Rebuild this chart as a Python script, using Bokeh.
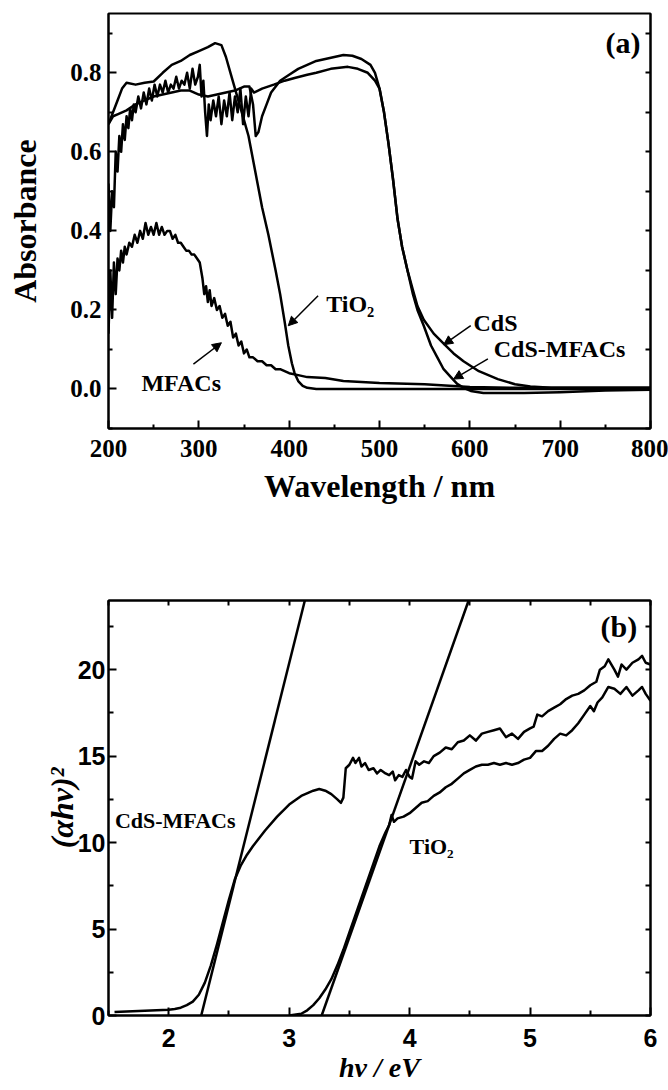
from bokeh.plotting import figure
from bokeh.models import (FixedTicker, LinearAxis, Range1d, Label, Arrow,
                          NormalHead, PrintfTickFormatter, CustomJSTickFormatter)
from bokeh.layouts import column
from bokeh.embed import file_html
from bokeh.resources import INLINE

# ---------------- Panel (a): UV-vis absorbance ----------------
tio2_wl = [200, 205, 210, 215, 220, 230, 240, 250, 260, 270, 280, 290, 300, 310, 318,
           325, 330, 335, 340, 345, 350, 355, 360, 365, 370, 377, 385, 390, 395, 399,
           403, 406, 410, 415, 420, 430, 450, 500, 600, 700, 800]
tio2_abs = [0.67, 0.70, 0.73, 0.76, 0.775, 0.77, 0.775, 0.778, 0.80, 0.82, 0.83, 0.845,
            0.855, 0.865, 0.875, 0.87, 0.84, 0.80, 0.76, 0.72, 0.68, 0.64, 0.58, 0.52,
            0.46, 0.39, 0.30, 0.24, 0.17, 0.11, 0.065, 0.04, 0.02, 0.008, 0.003, 0.0,
            0.0, 0.0, 0.0, 0.0, 0.0]

mfacs_wl = [200, 202, 204, 206, 208, 210, 212, 214, 216, 218, 220, 223, 226, 229, 232,
            235, 238, 241, 244, 247, 250, 253, 256, 259, 262, 265, 268, 271, 274, 277,
            280, 283, 286, 289, 292, 295, 298, 301, 304, 306, 308, 310, 312, 314, 317,
            320, 323, 326, 329, 332, 335, 338, 341, 344, 347, 350, 353, 356, 360, 365,
            370, 375, 380, 385, 390, 395, 400, 410, 420, 440, 460, 500, 550, 600, 650,
            700, 800]
mfacs_abs = [0.14, 0.30, 0.18, 0.32, 0.24, 0.33, 0.30, 0.35, 0.32, 0.36, 0.34, 0.37,
             0.36, 0.39, 0.37, 0.40, 0.38, 0.42, 0.39, 0.41, 0.39, 0.42, 0.39, 0.41,
             0.39, 0.40, 0.40, 0.38, 0.39, 0.37, 0.37, 0.36, 0.35, 0.35, 0.34, 0.34,
             0.33, 0.32, 0.28, 0.24, 0.26, 0.22, 0.25, 0.21, 0.23, 0.20, 0.21, 0.18,
             0.19, 0.16, 0.17, 0.13, 0.14, 0.11, 0.12, 0.09, 0.10, 0.08, 0.08, 0.07,
             0.07, 0.06, 0.06, 0.05, 0.05, 0.045, 0.04, 0.035, 0.03, 0.028, 0.02,
             0.015, 0.012, 0.005, 0.003, 0.003, 0.003]

cds_wl = [200, 205, 210, 220, 230, 240, 250, 260, 270, 280, 290, 300, 310, 320, 330,
          340, 350, 356, 360, 363, 366, 370, 375, 380, 390, 400, 410, 420, 430, 440,
          450, 460, 470, 480, 490, 495, 500, 505, 510, 515, 520, 525, 531, 537, 542,
          549, 560, 571, 582, 593, 610, 631, 650, 667, 690, 750, 800]
cds_abs = [0.67, 0.69, 0.695, 0.705, 0.72, 0.73, 0.74, 0.745, 0.75, 0.755, 0.755, 0.745,
           0.74, 0.745, 0.75, 0.755, 0.765, 0.765, 0.72, 0.64, 0.65, 0.69, 0.72, 0.75,
           0.78, 0.795, 0.81, 0.82, 0.83, 0.835, 0.84, 0.845, 0.843, 0.835, 0.82, 0.80,
           0.76, 0.70, 0.62, 0.53, 0.43, 0.36, 0.30, 0.25, 0.21, 0.175, 0.14, 0.115,
           0.09, 0.07, 0.045, 0.025, 0.012, 0.006, 0.003, 0.003, 0.003]

cdsm_wl = [200, 202, 204, 206, 208, 210, 212, 214, 216, 218, 220, 222, 224, 226, 228,
           230, 233, 236, 239, 242, 245, 248, 251, 254, 257, 260, 263, 266, 269, 272,
           275, 278, 281, 284, 287, 290, 293, 296, 299, 301, 303, 305, 307, 309, 311,
           313, 316, 319, 322, 325, 328, 331, 334, 337, 340, 343, 346, 349, 352, 355,
           358, 361, 370, 383, 395, 406, 420, 430, 446, 465, 476, 487, 495, 500, 505,
           510, 515, 520, 525, 531, 537, 542, 549, 557, 564, 571, 579, 586, 593, 601,
           615, 631, 660, 700, 750, 800]
cdsm_abs = [0.52, 0.40, 0.50, 0.46, 0.60, 0.55, 0.64, 0.60, 0.67, 0.63, 0.69, 0.66,
            0.71, 0.68, 0.72, 0.70, 0.74, 0.71, 0.75, 0.72, 0.76, 0.73, 0.77, 0.74,
            0.77, 0.75, 0.78, 0.75, 0.77, 0.76, 0.79, 0.76, 0.78, 0.77, 0.80, 0.76,
            0.81, 0.77, 0.79, 0.82, 0.74, 0.78, 0.70, 0.64, 0.72, 0.68, 0.73, 0.69,
            0.74, 0.67, 0.73, 0.69, 0.75, 0.68, 0.74, 0.70, 0.76, 0.67, 0.74, 0.69,
            0.76, 0.75, 0.76, 0.77, 0.78, 0.787, 0.795, 0.80, 0.81, 0.815, 0.81, 0.80,
            0.78, 0.76, 0.70, 0.62, 0.53, 0.43, 0.36, 0.30, 0.24, 0.20, 0.16, 0.11,
            0.08, 0.05, 0.03, 0.013, 0.003, -0.005, -0.01, -0.01, -0.01, -0.008,
            -0.004, -0.002]

a_xticks = [200, 300, 400, 500, 600, 700, 800]
a_xminor = [250, 350, 450, 550, 650, 750]
a_yticks = [0.0, 0.2, 0.4, 0.6, 0.8]
a_yminor = [-0.1, 0.1, 0.3, 0.5, 0.7, 0.9]
a_yright = [-0.1, 0.0, 0.1, 0.2, 0.3, 0.4, 0.5, 0.6, 0.7, 0.8, 0.9]

# ---------------- Panel (b): Tauc plot ----------------
tauc_cdsm_ev = [1.55, 1.7, 1.8, 1.9, 2.0, 2.05, 2.1, 2.15, 2.2, 2.25, 2.3, 2.35, 2.4,
                2.45, 2.5, 2.55, 2.6, 2.65, 2.7, 2.8, 2.9, 3.0, 3.1, 3.2, 3.25, 3.3,
                3.35, 3.4, 3.43, 3.45, 3.47, 3.5, 3.53, 3.55, 3.58, 3.6, 3.63, 3.66,
                3.7, 3.73, 3.76, 3.8, 3.83, 3.86, 3.88, 3.91, 3.94, 3.97, 4.0, 4.02,
                4.05, 4.08, 4.12, 4.16, 4.2, 4.25, 4.3, 4.35, 4.4, 4.45, 4.5, 4.55,
                4.6, 4.65, 4.7, 4.75, 4.8, 4.85, 4.9, 4.95, 5.0, 5.03, 5.06, 5.1, 5.15,
                5.2, 5.25, 5.3, 5.35, 5.4, 5.45, 5.5, 5.55, 5.58, 5.62, 5.65, 5.7,
                5.73, 5.76, 5.8, 5.85, 5.9, 5.93, 5.96, 6.0]
tauc_cdsm_val = [0.2, 0.25, 0.28, 0.3, 0.33, 0.38, 0.45, 0.6, 0.8, 1.2, 1.9, 2.9, 4.1,
                 5.4, 6.7, 7.9, 8.7, 9.3, 9.8, 10.7, 11.5, 12.2, 12.7, 13.0, 13.1,
                 13.0, 12.8, 12.5, 12.3, 12.6, 14.3, 14.5, 14.9, 14.6, 14.9, 14.4,
                 14.6, 14.2, 14.3, 14.0, 14.2, 14.0, 13.9, 14.1, 13.6, 13.9, 13.8,
                 14.2, 13.8, 13.7, 14.7, 14.5, 14.7, 14.6, 15.0, 15.2, 15.5, 15.4,
                 15.8, 15.9, 16.2, 15.9, 16.3, 16.4, 16.5, 16.6, 16.1, 16.3, 16.0,
                 16.4, 16.6, 16.7, 17.4, 17.3, 17.6, 17.8, 18.0, 18.3, 18.5, 18.6,
                 18.8, 19.1, 19.3, 20.0, 20.2, 20.6, 20.0, 19.6, 20.3, 20.0, 20.4,
                 20.6, 20.8, 20.4, 20.3]

tauc_tio2_ev = [3.0, 3.1, 3.15, 3.2, 3.25, 3.3, 3.35, 3.4, 3.45, 3.5, 3.55, 3.6, 3.65,
                3.7, 3.75, 3.8, 3.83, 3.85, 3.87, 3.9, 3.95, 4.0, 4.05, 4.1, 4.15, 4.2,
                4.25, 4.3, 4.35, 4.4, 4.45, 4.5, 4.55, 4.6, 4.65, 4.7, 4.75, 4.8, 4.85,
                4.9, 4.95, 5.0, 5.05, 5.1, 5.15, 5.2, 5.25, 5.3, 5.35, 5.4, 5.45, 5.5,
                5.53, 5.56, 5.6, 5.65, 5.7, 5.75, 5.8, 5.85, 5.9, 5.93, 5.96, 6.0]
tauc_tio2_val = [0.0, 0.1, 0.3, 0.6, 1.0, 1.5, 2.1, 2.9, 3.8, 4.8, 5.8, 6.8, 7.8, 8.8,
                 9.8, 10.6, 11.0, 11.6, 11.2, 11.4, 11.5, 11.7, 12.0, 12.3, 12.4, 12.7,
                 12.9, 13.2, 13.4, 13.7, 14.0, 14.2, 14.4, 14.5, 14.5, 14.6, 14.5, 14.6,
                 14.5, 14.6, 14.8, 14.9, 15.3, 15.3, 15.6, 16.0, 16.3, 16.2, 16.5, 16.9,
                 17.4, 17.9, 17.6, 18.1, 18.4, 19.0, 18.9, 18.6, 19.0, 18.5, 18.8, 19.0,
                 18.6, 18.2]

# linear band-gap extrapolation lines (ends of each fitted line)
fit_cdsm_ev = [2.27, 3.13]
fit_cdsm_val = [0.0, 24.0]
fit_tio2_ev = [3.27, 4.49]
fit_tio2_val = [0.0, 24.0]

b_xticks = [2, 3, 4, 5, 6]
b_xminor = [1.5, 2.5, 3.5, 4.5, 5.5]
b_yticks = [0, 5, 10, 15, 20]
b_yminor = [2.5, 7.5, 12.5, 17.5, 22.5]
b_top = [1.5, 2.0, 2.5, 3.0, 3.5, 4.0, 4.5, 5.0, 5.5, 6.0]
b_right = [0, 2.5, 5, 7.5, 10, 12.5, 15, 17.5, 20, 22.5]

SERIF = "Liberation Serif"
SANS = "Liberation Sans"
LW = 2.5


def style_axis(ax, font, size, major_in=8, minor_in=4):
    ax.axis_line_width = 2
    ax.axis_line_color = "black"
    ax.major_tick_in = major_in
    ax.major_tick_out = 0
    ax.minor_tick_in = minor_in
    ax.minor_tick_out = 0
    ax.major_tick_line_width = 2
    ax.minor_tick_line_width = 2
    ax.major_label_text_font = font
    ax.major_label_text_font_style = "bold"
    ax.major_label_text_font_size = size
    ax.major_label_text_color = "black"


def blank_axis(ticks, length):
    ax = LinearAxis(ticker=FixedTicker(ticks=ticks, minor_ticks=[]),
                    formatter=CustomJSTickFormatter(code="return ''"))
    ax.axis_line_width = 2
    ax.major_tick_in = length
    ax.major_tick_out = 0
    ax.minor_tick_in = 0
    ax.minor_tick_out = 0
    ax.major_tick_line_width = 2
    ax.major_label_standoff = 0
    ax.major_label_text_font_size = "10px"
    return ax


def text_label(fig, x, y, t, font, size, align, style="bold"):
    fig.add_layout(Label(x=x, y=y, text=t, text_font=font, text_font_style=style,
                         text_font_size=size, text_align=align,
                         text_baseline="middle", text_color="black"))


# ---------- figure (a) ----------
p1 = figure(width=668, height=550, x_range=Range1d(200, 800),
            y_range=Range1d(-0.1, 0.95), output_backend="svg",
            toolbar_location=None, min_border_left=107, min_border_right=18,
            min_border_top=13, min_border_bottom=122)
p1.grid.visible = False
p1.outline_line_color = "black"
p1.outline_line_width = 2

p1.xaxis.ticker = FixedTicker(ticks=a_xticks, minor_ticks=a_xminor)
p1.yaxis.ticker = FixedTicker(ticks=a_yticks, minor_ticks=a_yminor)
for ax in (p1.xaxis[0], p1.yaxis[0]):
    style_axis(ax, SERIF, "25px")
p1.yaxis.formatter = PrintfTickFormatter(format="%.1f")
p1.xaxis.major_label_standoff = 11
p1.yaxis.major_label_standoff = 7
p1.xaxis.axis_label = "Wavelength / nm"
p1.yaxis.axis_label = "Absorbance"
for ax in (p1.xaxis[0], p1.yaxis[0]):
    ax.axis_label_text_font = SERIF
    ax.axis_label_text_font_style = "bold"
    ax.axis_label_text_font_size = "32px"
    ax.axis_label_text_color = "black"
p1.xaxis.axis_label_standoff = 8
p1.yaxis.axis_label_standoff = 24
p1.add_layout(blank_axis(a_yright, 5), "right")

for xs, ys in ((tio2_wl, tio2_abs), (mfacs_wl, mfacs_abs), (cds_wl, cds_abs),
               (cdsm_wl, cdsm_abs)):
    p1.line(xs, ys, line_width=LW, line_color="black", line_join="round")

# labels (a)
text_label(p1, 441, 0.216, "TiO₂", SERIF, "24px", "left")
text_label(p1, 236.5, 0.015, "MFACs", SERIF, "24px", "left")
text_label(p1, 604, 0.168, "CdS", SERIF, "24px", "left")
text_label(p1, 626.5, 0.10, "CdS-MFACs", SERIF, "24px", "left")
text_label(p1, 789, 0.876, "(a)", SERIF, "30px", "right")
a_arrows = [(432, 0.236, 399, 0.16), (294, 0.063, 325, 0.117),
            (601, 0.16, 571, 0.112), (620, 0.076, 582, 0.025)]
for x0, y0, x1, y1 in a_arrows:
    p1.add_layout(Arrow(end=NormalHead(size=9, fill_color="black",
                                       line_color="black", line_width=1),
                        x_start=x0, y_start=y0, x_end=x1, y_end=y1,
                        line_width=1.5, line_color="black"))

# ---------- figure (b) ----------
p2 = figure(width=668, height=540, x_range=Range1d(1.5, 6),
            y_range=Range1d(0, 24), output_backend="svg",
            toolbar_location=None, min_border_left=108, min_border_right=18,
            min_border_top=50, min_border_bottom=75)
p2.grid.visible = False
p2.outline_line_color = "black"
p2.outline_line_width = 2

p2.xaxis.ticker = FixedTicker(ticks=b_xticks, minor_ticks=b_xminor)
p2.yaxis.ticker = FixedTicker(ticks=b_yticks, minor_ticks=b_yminor)
for ax in (p2.xaxis[0], p2.yaxis[0]):
    style_axis(ax, SANS, "25px", major_in=8, minor_in=5)
p2.xaxis.major_label_standoff = 13
p2.yaxis.major_label_standoff = 3
p2.xaxis.axis_label = "hν / eV"
p2.yaxis.axis_label = "(αhν)²"
p2.xaxis.axis_label_text_font_size = "28px"
p2.yaxis.axis_label_text_font_size = "32px"
for ax in (p2.xaxis[0], p2.yaxis[0]):
    ax.axis_label_text_font = SERIF
    ax.axis_label_text_font_style = "bold italic"
    ax.axis_label_text_color = "black"
p2.xaxis.axis_label_standoff = 2
p2.yaxis.axis_label_standoff = -5
p2.add_layout(blank_axis(b_right, 5), "right")
p2.add_layout(blank_axis(b_top, 5), "above")

p2.line(tauc_cdsm_ev, tauc_cdsm_val, line_width=LW, line_color="black",
        line_join="round")
p2.line(tauc_tio2_ev, tauc_tio2_val, line_width=LW, line_color="black",
        line_join="round")
p2.line(fit_cdsm_ev, fit_cdsm_val, line_width=LW, line_color="black")
p2.line(fit_tio2_ev, fit_tio2_val, line_width=LW, line_color="black")

text_label(p2, 1.553, 11.25, "CdS-MFACs", SERIF, "22px", "left")
text_label(p2, 4.0, 9.77, "TiO₂", SERIF, "22px", "left")
text_label(p2, 5.89, 22.5, "(b)", SERIF, "30px", "right")

layout = column(p1, p2, spacing=0)
open("out.html", "w").write(file_html(layout, INLINE))
